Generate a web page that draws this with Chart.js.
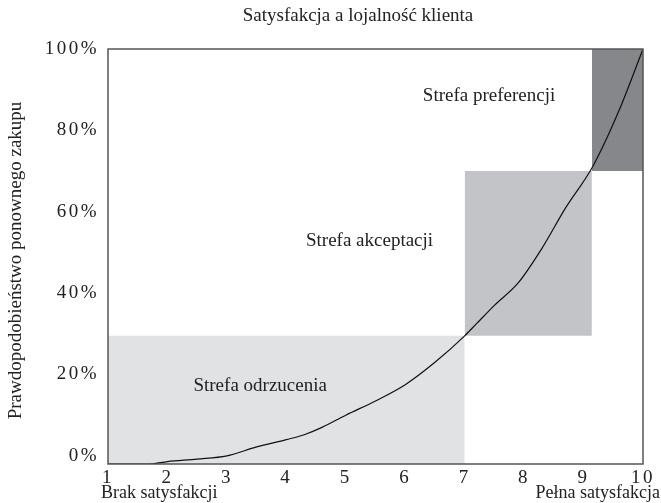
<!DOCTYPE html>
<html>
<head>
<meta charset="utf-8">
<script src="https://cdn.jsdelivr.net/npm/chart.js@4"></script>
<style>
  html, body { margin: 0; padding: 0; background: #fff; }
  #wrap { width: 661px; height: 503px; }
</style>
</head>
<body>
<div id="wrap"><canvas id="chart" width="661" height="503"></canvas></div>
<script>
const chartTitle = 'Satysfakcja a lojalność klienta';
const yTitle = 'Prawdopodobieństwo ponownego zakupu';
const xLeftLabel = 'Brak satysfakcji';
const xRightLabel = 'Pełna satysfakcja';
const yTicks = [0, 20, 40, 60, 80, 100];

// curve: satysfakcja (1-10) vs prawdopodobieństwo (%)
const curveX = [1, 1.7, 2, 2.5, 3, 3.5, 4, 4.3, 4.6, 5, 5.5, 6, 6.5, 7, 7.2, 7.5, 7.9, 8.3, 8.7, 9.15, 9.6, 10];
const curveY = [-2, -2, -1.4, -0.8, 0, 2.2, 4, 5.2, 7, 10, 13.5, 17.5, 23, 29.5, 32.5, 37, 42.5, 51, 61, 71, 85, 100];

// strefy
const zoneNames = ['Strefa odrzucenia', 'Strefa akceptacji', 'Strefa preferencji'];
const zoneX0 = [1, 7, 9.14];
const zoneX1 = [7, 9.14, 10];
const zoneY0 = [-2, 29.5, 70];
const zoneY1 = [29.5, 70, 100];
const zoneColors = ['#e1e2e4', '#c3c4c7', '#86878b'];
const labelX = [3.56, 5.4, 7.41];
const labelY = [17.2, 52.8, 88.5];

const serif = '"Liberation Serif", "DejaVu Serif", serif';

const datasets = [];
for (let i = 0; i < zoneNames.length; i++) {
  datasets.push({
    label: zoneNames[i],
    data: [{x: zoneX0[i], y: zoneY1[i]}, {x: zoneX1[i], y: zoneY1[i]}],
    borderWidth: 0,
    pointRadius: 0,
    backgroundColor: zoneColors[i],
    fill: {value: zoneY0[i]},
    order: 2
  });
}
datasets.push({
  label: 'krzywa',
  data: curveX.map((x, i) => ({x: x, y: curveY[i]})),
  borderColor: '#111',
  borderWidth: 1.2,
  pointRadius: 0,
  cubicInterpolationMode: 'monotone',
  fill: false,
  order: 1
});

const textPlugin = {
  id: 'texts',
  beforeDraw(chart) {
    chart.ctx.letterSpacing = '2.5px';
  },
  afterDraw(chart) {
    const ctx = chart.ctx;
    const a = chart.chartArea;
    const xs = chart.scales.x, ys = chart.scales.y;
    ctx.save();
    ctx.letterSpacing = '0px';
    // ramka
    ctx.strokeStyle = '#555';
    ctx.lineWidth = 1.5;
    ctx.strokeRect(a.left, a.top, a.right - a.left, a.bottom - a.top);
    ctx.fillStyle = '#222';
    ctx.font = '19px ' + serif;
    ctx.textAlign = 'center';
    ctx.textBaseline = 'middle';
    ctx.fillText(chartTitle, 358, 16);
    for (let i = 0; i < zoneNames.length; i++) {
      ctx.fillText(zoneNames[i], xs.getPixelForValue(labelX[i]), ys.getPixelForValue(labelY[i]));
    }
    ctx.font = '18px ' + serif;
    ctx.textAlign = 'left';
    ctx.fillText(xLeftLabel, 101, 493);
    ctx.textAlign = 'right';
    ctx.fillText(xRightLabel, 660, 493);
    // tytuł osi Y
    ctx.translate(16, (a.top + a.bottom) / 2 + 4);
    ctx.rotate(-Math.PI / 2);
    ctx.textAlign = 'center';
    ctx.font = '19px ' + serif;
    ctx.fillText(yTitle, 0, 0);
    ctx.restore();
  }
};

new Chart(document.getElementById('chart'), {
  type: 'line',
  data: { datasets },
  plugins: [textPlugin],
  options: {
    responsive: false,
    animation: false,
    layout: { padding: { top: 49, right: 18, left: 0, bottom: 0 } },
    plugins: {
      legend: { display: false },
      tooltip: { enabled: false }
    },
    scales: {
      x: {
        type: 'linear',
        min: 1,
        max: 10,
        grid: { display: false, drawTicks: false },
        border: { display: false },
        afterFit: (axis) => { axis.height = 39; },
        ticks: {
          stepSize: 1,
          padding: 3,
          color: '#222',
          font: { family: serif, size: 19 }
        }
      },
      y: {
        min: -2,
        max: 100,
        grid: { display: false, drawTicks: false },
        border: { display: false },
        afterFit: (axis) => { axis.width = 108; },
        afterBuildTicks: (axis) => { axis.ticks = yTicks.map(v => ({value: v})); },
        ticks: {
          padding: 9,
          color: '#222',
          font: { family: serif, size: 19 },
          callback: (v) => v + '%'
        }
      }
    }
  }
});
</script>
</body>
</html>
